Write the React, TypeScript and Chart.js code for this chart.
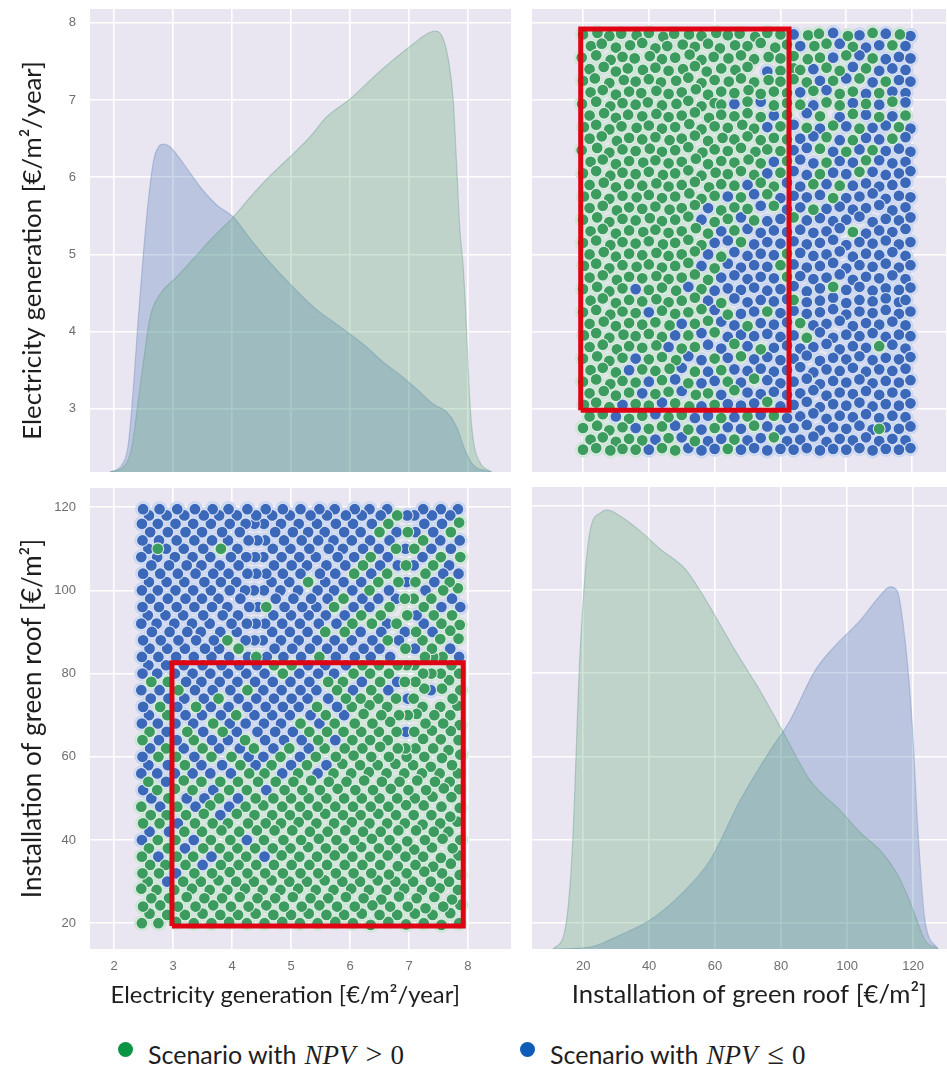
import React, { useEffect, useRef } from "react";
import { Chart, registerables } from "chart.js";
Chart.register(...registerables);

const elecTitle = "Electricity generation [€/m²/year]";
const roofTitle = "Installation of green roof [€/m²]";
const elecTicks = [3, 4, 5, 6, 7, 8];
const elecTicksX = [2, 3, 4, 5, 6, 7, 8];
const roofTicks = [20, 40, 60, 80, 100, 120];

// density curves: x value, relative height
const elecKdeBlue = [1.93,0,2.13,7,2.24,28,2.33,88,2.41,155,2.5,222,2.58,272,2.67,312,2.75,325,2.84,328,2.95,325,3.18,308,3.46,285,3.74,267,4.02,255,4.31,233,4.59,213,4.87,195,5.15,178,5.44,162,5.72,150,6,138,6.28,125,6.56,110,6.85,97,7.13,83,7.41,68,7.64,60,7.81,45,7.95,22,8.09,7,8.4,0];
const elecKdeGreen = [1.93,0,2.16,5,2.3,25,2.41,72,2.5,112,2.61,155,2.78,178,3.06,195,3.34,213,3.68,235,4.02,255,4.31,275,4.59,293,4.98,315,5.32,335,5.6,355,6,373,6.4,395,6.73,412,7.07,428,7.3,438,7.44,441,7.55,437,7.67,412,7.75,372,7.81,305,7.86,245,7.92,205,7.98,138,8.03,72,8.09,32,8.2,10,8.4,0];
const roofKdeGreen = [10.9,0,14.5,19,16.7,99,19.1,299,22.1,419,25.2,437,27.3,440,31.2,434,37.3,419,43.3,401,50.9,381,55.5,359,60,334,66.1,299,73.6,259,81.2,214,88.8,169,97.9,139,103.9,117,110,99,114.5,79,117.6,59,120.6,34,123.6,9,127.6,0];
const roofKdeBlue = [10.9,0,22.1,2,31.2,14,40.3,29,49.4,54,58.5,89,67.6,149,76.7,199,82.7,229,90.3,279,96.4,304,103.9,329,110,354,113,363,115.2,359,117.6,309,119.7,229,121.5,119,123.6,29,127.6,0];

// scenarios, as flat lists of electricity value, roof value
const scenariosPositive = [
7.85,20,7.87,24.4,7.83,28,7.86,31.6,7.84,36.3,7.87,40,7.82,44.4,7.86,47.7,7.85,52.2,7.83,56,7.87,60.5,7.84,64,7.86,67.6,7.82,72.3,7.87,76,7.85,80,7.84,88.4,7.86,91.7,7.83,100.5,7.87,108,7.85,116.3,
7.7,22.4,7.73,25.7,7.68,30,7.71,34.3,7.74,38,7.67,42,7.7,45.6,7.72,50.3,7.69,54,7.73,58,7.67,61.6,7.71,66.2,7.7,70,7.74,74,7.68,78.4,7.72,82,7.7,90.3,7.73,94,7.69,102,7.71,114,
7.55,19.6,7.58,24,7.52,28.4,7.56,32,7.54,35.7,7.57,40.3,7.53,44,7.55,48,7.59,52.4,7.52,56,7.56,59.7,7.54,64.2,7.58,68,7.53,72,7.56,76.4,7.54,80,7.57,84,7.53,88.3,7.55,92,7.58,100,7.54,108,
7.4,22,7.43,26.3,7.37,30,7.41,33.6,7.39,38.2,7.42,42,7.38,46,7.4,50.4,7.44,54,7.37,57.6,7.41,62,7.39,66.3,7.43,70,7.38,80,7.41,84,7.39,86,7.42,94,7.38,98,7.41,106,
7.25,20,7.28,23.6,7.22,28,7.26,32.4,7.24,36,7.27,40,7.23,43.7,7.25,48.3,7.29,52,7.22,56,7.26,60,7.24,64.3,7.28,68,7.23,72,7.26,76.4,7.24,80,7.27,84,7.23,88,7.25,96,7.28,104,7.24,112,
7.1,22.3,7.13,26,7.07,30,7.11,34,7.09,37.7,7.12,42.3,7.08,46,7.1,50,7.14,54.3,7.07,58,7.11,62,7.09,66,7.13,70.3,7.08,74,7.11,78,7.09,82,7.12,90,7.08,98,7.11,102,7.09,110,
6.95,19.7,6.98,24,6.92,28.3,6.96,32,6.94,36,6.97,39.7,6.93,44,6.95,48.4,6.99,52,6.92,56,6.96,60,6.94,62,6.98,70,6.93,78,6.96,82,6.94,86,6.97,94,6.93,98,6.95,106,6.98,114,
6.8,22,6.83,26.4,6.77,30,6.81,33.7,6.79,38,6.82,42.3,6.78,46,6.8,50,6.84,54,6.77,58.3,6.81,62,6.79,66,6.83,70,6.78,74,6.81,82,6.79,92,6.82,102,6.78,110,6.8,118,
6.65,20.3,6.68,24,6.62,28,6.66,31.7,6.64,36.3,6.67,40,6.63,44,6.65,48,6.69,52.3,6.62,56,6.66,60,6.64,64,6.68,68.4,6.63,72,6.66,80,6.64,88,6.67,96,6.63,104,6.65,116,
6.5,22,6.53,25.7,6.47,30.3,6.51,34,6.49,38,6.52,42,6.48,46.3,6.5,50,6.54,54,6.47,58,6.51,62.4,6.49,66,6.53,70,6.48,74,6.51,78,6.49,82,6.52,94,6.48,102,6.5,114,
6.35,19.6,6.38,24.3,6.32,28,6.36,32,6.34,36,6.37,40.3,6.33,44,6.35,48,6.39,52,6.32,56.3,6.36,60,6.34,64,6.38,68,6.33,72.4,6.36,76,6.34,80,6.37,92,6.33,100,6.35,108,
6.2,22.3,6.23,26,6.17,30,6.21,34,6.19,38.3,6.22,42,6.18,46,6.2,50,6.24,54.3,6.17,58,6.21,62,6.19,66,6.23,70.3,6.18,74,6.21,82,6.19,94,6.22,106,
6.05,20,6.08,24,6.02,28.3,6.06,32,6.04,36,6.07,40,6.03,44.3,6.05,48,6.09,52,6.02,56,6.06,60.3,6.04,64,6.08,68,6.03,72,6.06,80,6.04,92,6.07,104,
5.9,22,5.93,26.3,5.87,30,5.91,34,5.89,38,5.92,42.3,5.88,46,5.9,50,5.94,54,5.87,58.3,5.91,62,5.89,66,5.93,74,5.88,78,5.91,90,5.89,98,
5.75,20.3,5.78,24,5.72,28,5.76,32,5.74,36.3,5.77,40,5.73,44,5.75,48,5.79,52.3,5.72,56,5.76,60,5.74,68,5.78,76,5.73,96,
5.6,22,5.63,26,5.57,30.3,5.61,34,5.59,38,5.62,42,5.58,46.3,5.6,50,5.64,54,5.57,62,5.61,66,5.59,70,5.63,78,5.58,90,
5.45,20,5.48,24.3,5.42,28,5.46,32,5.44,36,5.47,40.3,5.43,44,5.45,48,5.49,52,5.42,60,5.46,64,5.44,72,5.48,84,
5.3,22.3,5.33,26,5.27,30,5.31,34,5.29,38.3,5.32,42,5.28,46,5.3,50,5.34,54.3,5.27,58,5.31,66,5.29,102,
5.15,20,5.18,24,5.12,28.3,5.16,32,5.14,36,5.17,40,5.13,44.3,5.15,48,5.19,52,5.12,56,5.16,68,
5,22,5.03,26.3,4.97,30,5.01,34,4.99,38,5.02,42.3,4.98,46,5,50,5.04,54,4.97,62,5.01,82,
4.85,20.3,4.88,24,4.82,28,4.86,32,4.84,36.3,4.87,40,4.83,44,4.85,48,4.89,52,4.82,60,4.86,80,
4.7,22,4.73,26,4.67,30.3,4.71,34,4.69,38,4.72,42.3,4.68,46,4.7,50,4.74,54,4.67,58,4.71,82,
4.55,20,4.58,24.3,4.52,28,4.56,32,4.54,40,4.57,44,4.53,48.3,4.55,56,4.58,96,
4.4,22.3,4.43,26,4.37,30,4.41,34,4.39,38,4.42,42.3,4.38,46,4.4,50,4.44,54,4.37,62,4.41,84,
4.25,20,4.28,24,4.22,28.3,4.26,32,4.24,36,4.27,44,4.23,48,4.25,52,4.29,56,4.22,64,4.26,76,
4.1,22,4.13,26.3,4.07,30,4.11,34,4.09,38,4.12,42,4.08,46.3,4.1,54,4.14,58,4.07,70,4.11,86,
3.95,20.3,3.98,24,3.92,28,3.96,32.3,3.94,36,3.97,40,3.93,44,3.95,52,3.99,60,3.92,88,
3.8,22,3.83,26,3.77,30.3,3.81,34,3.79,38,3.82,42.3,3.78,50,3.8,54,3.84,66,3.77,74,3.81,110,
3.65,20,3.68,24.3,3.62,28,3.66,32,3.64,40,3.67,44,3.63,48.3,3.65,60,3.68,68,
3.5,22.3,3.53,26,3.47,30,3.51,38,3.49,42,3.52,46.3,3.48,54,3.5,62,
3.35,20,3.38,24,3.32,28.3,3.36,32,3.34,36,3.37,44,3.33,52,3.35,64,3.39,72,
3.2,22,3.23,26.3,3.17,30,3.21,34,3.19,42,3.22,46,3.18,54.3,3.2,58,3.24,66,
3.05,20.3,3.08,24,3.02,28,3.06,36,3.04,40,3.07,48,3.03,52.3,3.05,60,3.09,76,
2.9,22,2.93,26,2.87,34,2.91,38,2.89,46,2.92,50,2.88,62,2.9,70,2.91,78,
2.75,20,2.78,24.3,2.72,28,2.76,32,2.74,40,2.77,44,2.73,52,2.75,60,2.78,72,2.74,110,
2.6,22.3,2.63,26,2.57,30,2.61,34,2.59,38,2.62,46,2.58,54,2.6,66,2.63,78,
2.47,20,2.49,24,2.46,28.3,2.48,32,2.47,36,2.49,44,2.46,48,2.48,64,
];
const scenariosNegative = [
7.85,84,7.87,96,7.84,104,7.86,112,7.83,119.5,
7.7,86,7.73,98,7.68,106,7.71,110,7.7,118,
7.55,96,7.58,104,7.53,112,7.56,116,7.54,119.5,
7.37,76,7.4,90,7.43,102,7.38,110,7.41,114,7.39,118,
7.25,92,7.28,100,7.23,108,7.26,116,7.24,119.5,
7.1,86,7.13,94,7.08,106,7.11,114,7.09,118,
6.95,66,6.98,74,6.93,90,6.96,102,6.94,110,6.97,118,
6.8,78,6.83,88,6.78,98,6.81,106,6.79,114,
6.65,76,6.68,84,6.63,92,6.66,100,6.64,108,6.67,112,6.63,119.5,
6.5,86,6.53,90,6.48,98,6.51,106,6.49,110,6.52,118,
6.35,84,6.38,88,6.33,96,6.36,104,6.34,112,6.37,116,6.33,119.5,
6.2,78,6.23,86,6.18,90,6.21,98,6.19,102,6.22,110,6.18,114,6.2,118,
6.05,76,6.08,84,6.03,88,6.06,96,6.04,100,6.07,108,6.03,112,6.05,116,6.08,119.5,
5.9,70,5.93,82,5.88,86,5.91,94,5.89,102,5.92,106,5.88,110,5.9,114,5.93,118,
5.75,64,5.78,72,5.73,80,5.76,84,5.74,88,5.77,92,5.73,100,5.75,104,5.79,108,5.72,112,5.76,116,5.74,119.5,
5.6,58,5.63,74,5.58,82,5.61,86,5.59,94,5.62,98,5.58,102,5.6,106,5.64,110,5.57,114,5.61,118,
5.45,56,5.48,68,5.43,76,5.46,80,5.44,88,5.47,92,5.43,96,5.45,100,5.49,104,5.42,108,5.46,112,5.44,116,5.48,119.5,
5.3,62,5.33,70,5.28,74,5.31,78,5.29,82,5.32,86,5.28,90,5.3,94,5.34,98,5.27,106,5.31,110,5.29,114,5.33,118,
5.15,60,5.18,64,5.13,72,5.16,76,5.14,80,5.17,84,5.13,88,5.15,92,5.19,96,5.12,100,5.16,104,5.14,108,5.18,112,5.13,116,5.16,119.5,
5,58,5.03,66,4.98,70,5.01,74,4.99,78,5.02,86,4.98,90,5,94,5.04,98,4.97,102,5.01,106,4.99,110,5.03,114,4.98,118,
4.85,56,4.88,64,4.83,68,4.86,72,4.84,76,4.87,84,4.83,88,4.85,92,4.89,96,4.82,100,4.86,104,4.84,108,4.88,112,4.83,116,4.86,119.5,
4.7,62,4.73,66,4.68,70,4.71,74,4.69,78,4.72,86,4.68,90,4.7,94,4.74,98,4.67,102,4.71,106,4.69,110,4.73,114,4.68,118,
4.55,36,4.58,52,4.53,60,4.56,64,4.54,68,4.57,72,4.53,76,4.55,80,4.59,84,4.52,88,4.56,92,4.54,100,4.58,104,4.53,108,4.56,112,4.54,116,4.57,119.5,
4.4,58,4.43,66,4.38,70,4.41,74,4.39,78,4.42,82,4.38,88,4.4,92,4.44,96,4.37,100,4.41,104,4.39,108,4.43,112,4.38,116,4.41,118,
4.25,40,4.28,60,4.23,68,4.26,72,4.24,80,4.27,84,4.23,88,4.25,92,4.29,96,4.22,100,4.26,104,4.24,108,4.28,112,4.23,116,4.26,119.5,
4.1,50,4.13,62,4.08,66,4.11,74,4.09,78,4.12,82,4.08,90,4.1,94,4.14,98,4.07,102,4.11,106,4.09,110,4.13,114,4.08,118,
3.95,48,3.98,56,3.93,64,3.96,68,3.94,72,3.97,76,3.93,80,3.95,84,3.99,92,3.92,96,3.96,100,3.94,104,3.98,108,3.93,112,3.96,116,3.94,119.5,
3.8,46,3.83,58,3.78,62,3.81,70,3.79,78,3.82,82,3.78,86,3.8,90,3.84,94,3.77,98,3.81,102,3.79,106,3.83,114,3.78,118,
3.65,36,3.68,52,3.63,56,3.66,64,3.64,72,3.67,76,3.63,80,3.65,84,3.69,88,3.62,92,3.66,96,3.64,100,3.68,104,3.63,108,3.66,112,3.64,116,3.67,119.5,
3.5,34,3.53,50,3.48,58,3.51,66,3.49,70,3.52,74,3.48,78,3.5,82,3.54,86,3.47,90,3.51,94,3.49,98,3.53,102,3.48,106,3.51,110,3.49,114,3.52,118,
3.35,40,3.38,48,3.33,56,3.36,60,3.34,68,3.37,76,3.33,80,3.35,84,3.39,88,3.32,92,3.36,96,3.34,100,3.38,104,3.33,108,3.36,112,3.34,116,3.37,119.5,
3.2,38,3.23,50,3.18,62,3.21,70,3.19,74,3.22,78,3.18,82,3.2,86,3.24,90,3.17,94,3.21,98,3.19,102,3.23,106,3.18,110,3.21,114,3.19,118,
3.05,32,3.08,44,3.03,56,3.06,64,3.04,68,3.07,72,3.03,80,3.05,84,3.09,88,3.02,92,3.06,96,3.04,100,3.08,104,3.03,108,3.06,112,3.04,116,3.07,119.5,
2.9,30,2.93,42,2.88,54,2.91,58,2.89,66,2.92,74,2.88,82,2.9,86,2.94,90,2.87,94,2.91,98,2.89,102,2.93,106,2.88,110,2.91,114,2.89,118,
2.75,36,2.78,48,2.73,56,2.76,64,2.74,68,2.77,76,2.73,80,2.75,84,2.79,88,2.72,92,2.76,96,2.74,100,2.78,104,2.73,108,2.76,112,2.74,116,2.77,119.5,
2.6,42,2.63,50,2.58,58,2.61,62,2.59,70,2.62,74,2.58,82,2.6,86,2.64,90,2.57,94,2.61,98,2.59,102,2.63,106,2.58,110,2.61,114,2.59,118,
2.47,40,2.49,52,2.46,56,2.48,60,2.47,68,2.49,72,2.46,76,2.48,80,2.47,84,2.49,88,2.46,92,2.48,96,2.47,100,2.49,104,2.46,108,2.48,112,2.47,116,2.49,119.5,
];
// corners of the highlighted region: electricity, roof
const regionElec = [2.98, 7.92, 7.92, 2.98, 2.98];
const regionRoof = [19.3, 19.3, 82.6, 82.6, 19.3];

const pairs = (f: number[]) => {
  const out: { x: number; y: number }[] = [];
  for (let i = 0; i + 1 < f.length; i += 2) out.push({ x: f[i], y: f[i + 1] });
  return out;
};
const swap = (p: { x: number; y: number }[]) => p.map((d) => ({ x: d.y, y: d.x }));

const GREEN = "rgb(60,155,94)";
const BLUE = "rgb(60,104,186)";
const RED = "rgb(222,4,20)";
const TICK = { family: "'Liberation Sans'", size: 13 };
const TITLE_FONT = "Lato";
const ELEC = { min: 1.59, max: 8.73 };
const ELEC_Y = { min: 2.18, max: 8.18 };
const ROOF_X = { min: 4.5, max: 130.3 };
const ROOF_Y = { min: 13.8, max: 124.6 };

const bgPlugin = {
  id: "panelBg",
  beforeDraw(c: any) {
    const a = c.chartArea;
    c.ctx.save();
    c.ctx.fillStyle = "rgb(234,230,241)";
    c.ctx.fillRect(a.left, a.top, a.right - a.left, a.bottom - a.top);
    c.ctx.restore();
  },
};

function axis(range: any, ticks: number[], size: number, showTicks: boolean, title: any, tickPad = 10) {
  return {
    type: "linear",
    ...range,
    afterBuildTicks(s: any) {
      s.ticks = ticks.map((value) => ({ value }));
    },
    afterFit(s: any) {
      if (s.isHorizontal()) s.height = size;
      else s.width = size;
      s.paddingTop = s.paddingBottom = s.paddingLeft = s.paddingRight = 0;
    },
    grid: { color: "#fff", lineWidth: 1.6, drawTicks: false },
    border: { display: false },
    ticks: { display: showTicks, color: "#6e6e6e", font: TICK, padding: tickPad, maxRotation: 0 },
    title: title ? { display: true, color: "#1e1e1e", ...title } : { display: false },
  };
}

const scatterSets = (pos: any[], neg: any[], region: any[]) => [
  { label: "region", data: region, showLine: true, borderColor: RED, borderWidth: 5, borderJoinStyle: "miter", pointRadius: 0, order: 0, fill: false },
  { label: "NPV > 0", data: pos, showLine: false, pointRadius: 5.9, pointBackgroundColor: GREEN, pointBorderColor: "rgba(226,240,230,0.95)", pointBorderWidth: 1.1, order: 1 },
  { label: "NPV ≤ 0", data: neg, showLine: false, pointRadius: 5.9, pointBackgroundColor: BLUE, pointBorderColor: "rgba(222,230,246,0.95)", pointBorderWidth: 1.1, order: 2 },
  { label: "halo +", data: pos, showLine: false, pointRadius: 8, pointBackgroundColor: "rgb(206,228,214)", pointBorderWidth: 0, order: 3 },
  { label: "halo -", data: neg, showLine: false, pointRadius: 8, pointBackgroundColor: "rgb(202,214,240)", pointBorderWidth: 0, order: 4 },
];
const kdeSets = (blue: number[], green: number[]) => [
  { label: "NPV ≤ 0", data: pairs(blue), yAxisID: "d", showLine: true, cubicInterpolationMode: "monotone", fill: "origin", backgroundColor: "rgba(80,123,187,0.3)", borderColor: "rgba(90,130,180,0.35)", borderWidth: 1.2, pointRadius: 0, order: 2 },
  { label: "NPV > 0", data: pairs(green), yAxisID: "d", showLine: true, cubicInterpolationMode: "monotone", fill: "origin", backgroundColor: "rgba(94,170,117,0.3)", borderColor: "rgba(90,150,130,0.35)", borderWidth: 1.2, pointRadius: 0, order: 1 },
];
const densityAxis = { type: "linear", display: false, min: 0, max: 463 };

const positive = pairs(scenariosPositive);
const negative = pairs(scenariosNegative);
const regionPoints = regionElec.map((e, i) => ({ x: e, y: regionRoof[i] }));

const NB = "\u00a0";
const yTitle = (text: string, size: number) => ({ text, font: { family: TITLE_FONT, size }, padding: { top: 17, bottom: 0 } });
const xTitle = (text: string, size: number) => ({ text, font: { family: TITLE_FONT, size }, padding: { top: 0, bottom: 0 } });

type Panel = { left: number; top: number; w: number; h: number; pad: any; datasets: any[]; scales: any };
const panels: Panel[] = [
  {
    left: 0, top: 0, w: 521, h: 480,
    pad: { left: 0, right: 10, top: 9, bottom: 8 },
    datasets: kdeSets(elecKdeBlue, elecKdeGreen),
    scales: {
      x: axis(ELEC, elecTicksX, 0, false, null),
      y: axis(ELEC_Y, elecTicks, 90, true, yTitle(elecTitle + NB.repeat(3), 25.8), 14),
      d: densityAxis,
    },
  },
  {
    left: 522, top: 0, w: 432, h: 480,
    pad: { left: 10, right: 0, top: 9, bottom: 8 },
    datasets: scatterSets(swap(positive), swap(negative), swap(regionPoints)),
    scales: {
      x: axis(ROOF_X, roofTicks, 0, false, null),
      y: axis(ELEC_Y, elecTicks, 0, false, null),
    },
  },
  {
    left: 0, top: 480, w: 521, h: 530,
    pad: { left: 0, right: 10, top: 7, bottom: 0 },
    datasets: scatterSets(positive, negative, regionPoints),
    scales: {
      x: axis(ELEC, elecTicksX, 61, true, xTitle(elecTitle + NB.repeat(5), 23.8)),
      y: axis(ROOF_Y, roofTicks, 90, true, yTitle(roofTitle, 26), 14),
    },
  },
  {
    left: 522, top: 480, w: 425, h: 530,
    pad: { left: 10, right: 0, top: 7, bottom: 0 },
    datasets: kdeSets(roofKdeBlue, roofKdeGreen).reverse(),
    scales: {
      x: axis(ROOF_X, roofTicks, 61, true, xTitle(NB.repeat(3) + roofTitle, 25.7)),
      y: axis(ROOF_Y, roofTicks, 0, false, null),
      d: densityAxis,
    },
  },
];

function PanelChart({ p }: { p: Panel }) {
  const ref = useRef<HTMLCanvasElement>(null);
  useEffect(() => {
    const chart = new Chart(ref.current as any, {
      type: "scatter",
      data: { datasets: p.datasets },
      options: {
        animation: false,
        responsive: false,
        devicePixelRatio: 1,
        layout: { padding: p.pad },
        plugins: { legend: { display: false }, tooltip: { enabled: false } },
        scales: p.scales,
      },
      plugins: [bgPlugin],
    } as any);
    return () => chart.destroy();
  }, []);
  return (
    <canvas
      ref={ref}
      width={p.w}
      height={p.h}
      style={{ position: "absolute", left: p.left, top: p.top, width: p.w, height: p.h, filter: "blur(0.45px)" }}
    />
  );
}

function LegendItem({ x, color, rel }: { x: number; color: string; rel: string }) {
  const serif = "'Liberation Serif'";
  return (
    <>
      <span style={{ position: "absolute", left: x, top: 1042, width: 15, height: 15, borderRadius: "50%", background: color }} />
      <span style={{ position: "absolute", left: x + 30, top: 1039, whiteSpace: "nowrap", fontFamily: "Lato", fontSize: 25, color: "#1e1e1e", lineHeight: "30px" }}>
        Scenario with
        <i style={{ fontFamily: serif, fontSize: 27, marginLeft: 8 }}>NPV</i>
        <span style={{ fontFamily: serif, fontSize: 30, marginLeft: 10 }}>{rel}</span>
        <span style={{ fontFamily: serif, fontSize: 27, marginLeft: 8 }}>0</span>
      </span>
    </>
  );
}

export default function App() {
  return (
    <div style={{ position: "absolute", left: 0, top: 0, width: 947, height: 1065, background: "#fff", overflow: "hidden" }}>
      {panels.map((p, i) => (
        <PanelChart key={i} p={p} />
      ))}
      <LegendItem x={118} color="#0b9444" rel=">" />
      <LegendItem x={520} color="#0f5cb8" rel="≤" />
    </div>
  );
}
